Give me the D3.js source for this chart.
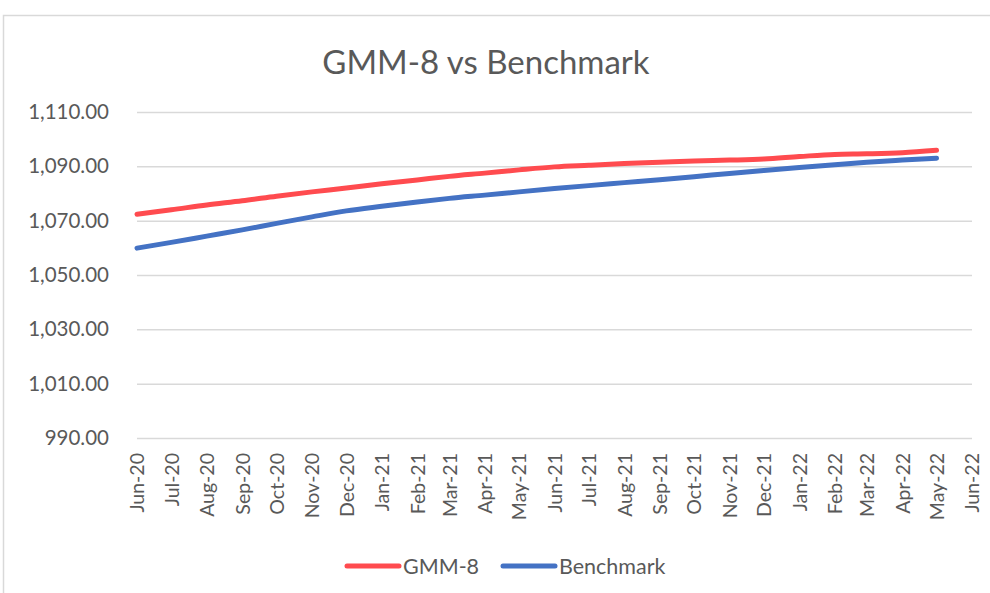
<!DOCTYPE html>
<html>
<head>
<meta charset="utf-8">
<script src="https://cdn.jsdelivr.net/npm/d3@7"></script>
<style>
  body { margin: 0; background: #fff; }
  svg { display: block; font-family: Lato, "Open Sans", sans-serif; }
</style>
</head>
<body>
<div id="chart"></div>
<script>
// monthly readings, 1st of each month, Jun 2020 .. May 2022
const months = ["2020-06-01","2020-07-01","2020-08-01","2020-09-01","2020-10-01","2020-11-01",
  "2020-12-01","2021-01-01","2021-02-01","2021-03-01","2021-04-01","2021-05-01","2021-06-01",
  "2021-07-01","2021-08-01","2021-09-01","2021-10-01","2021-11-01","2021-12-01","2022-01-01",
  "2022-02-01","2022-03-01","2022-04-01","2022-05-01"];
const gmm8 = [1072.4,1074.0,1075.8,1077.3,1079.0,1080.6,1082.0,1083.6,1085.0,1086.3,1087.5,1088.7,
  1089.8,1090.4,1091.0,1091.5,1092.0,1092.3,1092.7,1093.6,1094.4,1094.6,1095.0,1095.9];
const benchmark = [1059.9,1062.0,1064.3,1066.6,1069.0,1071.4,1073.6,1075.3,1076.9,1078.2,1079.4,1080.6,
  1081.8,1082.9,1084.0,1085.1,1086.2,1087.4,1088.5,1089.6,1090.6,1091.5,1092.3,1093.0];
const yTicks = [990, 1010, 1030, 1050, 1070, 1090, 1110];

const width = 990, height = 593;
const margin = {top: 112, right: 18, bottom: 155, left: 137};

const parse = d3.timeParse("%Y-%m-%d");
const dates = months.map(parse);

const svg = d3.select("#chart").append("svg")
    .attr("width", width)
    .attr("height", height);

// outer chart border, cut by the window on right and bottom
svg.append("rect")
    .attr("x", 3.5).attr("y", 15.5)
    .attr("width", width + 10).attr("height", height + 10)
    .attr("fill", "none")
    .attr("stroke", "#d9d9d9")
    .attr("stroke-width", 1.5);

let x = d3.scaleTime()
    .domain([parse("2020-06-01"), parse("2022-06-01")])
    .range([margin.left, width - margin.right]);

let y = d3.scaleLinear()
    .domain([990, 1110])
    .range([height - margin.bottom, margin.top]);

// gridlines + y labels
let yAxis = svg.append("g")
    .attr("transform", `translate(${margin.left},0)`)
    .call(d3.axisLeft(y)
        .tickValues(yTicks)
        .tickSize(-(width - margin.left - margin.right))
        .tickPadding(28)
        .tickFormat(d3.format(",.2f")));
yAxis.select(".domain").remove();
yAxis.selectAll("line").attr("stroke", "#d9d9d9").attr("stroke-width", 1.5);
yAxis.selectAll("text")
    .attr("fill", "#595959")
    .attr("font-size", 20.5)
    .attr("font-family", "Lato, sans-serif");

// x labels, rotated
let xAxis = svg.append("g")
    .attr("transform", `translate(0,${height - margin.bottom})`)
    .call(d3.axisBottom(x)
        .ticks(d3.timeMonth.every(1))
        .tickSize(0)
        .tickFormat(d3.timeFormat("%b-%y")));
xAxis.select(".domain").remove();
xAxis.selectAll("text")
    .attr("fill", "#595959")
    .attr("font-size", 19.5)
    .attr("font-family", "Lato, sans-serif")
    .style("text-anchor", "end")
    .attr("dx", "-15")
    .attr("dy", "0.35em")
    .attr("y", 0)
    .attr("transform", "rotate(-90)");

const line = d3.line()
    .x((d, i) => x(dates[i]))
    .y(d => y(d))
    .curve(d3.curveMonotoneX);

const series = [
    {name: "GMM-8", values: gmm8, color: "#ff4b4f"},
    {name: "Benchmark", values: benchmark, color: "#4472c4"}
];

svg.selectAll(".series")
    .data(series)
    .join("path")
    .attr("class", "series")
    .attr("d", d => line(d.values))
    .attr("fill", "none")
    .attr("stroke", d => d.color)
    .attr("stroke-width", 5)
    .attr("stroke-linecap", "round")
    .attr("stroke-linejoin", "round");

// title
svg.append("text")
    .attr("x", 486)
    .attr("y", 74)
    .attr("text-anchor", "middle")
    .attr("fill", "#595959")
    .attr("font-size", 33)
    .text("GMM-8 vs Benchmark");

// legend
const legendX = [347, 503];
let legend = svg.selectAll(".legend")
    .data(series)
    .join("g")
    .attr("class", "legend")
    .attr("transform", (d, i) => `translate(${legendX[i]},566)`);
legend.append("line")
    .attr("x1", 0).attr("x2", 52)
    .attr("stroke", d => d.color)
    .attr("stroke-width", 5)
    .attr("stroke-linecap", "round");
legend.append("text")
    .attr("x", 56)
    .attr("dy", "0.35em")
    .attr("fill", "#595959")
    .attr("font-size", 21.5)
    .text(d => d.name);
</script>
</body>
</html>
